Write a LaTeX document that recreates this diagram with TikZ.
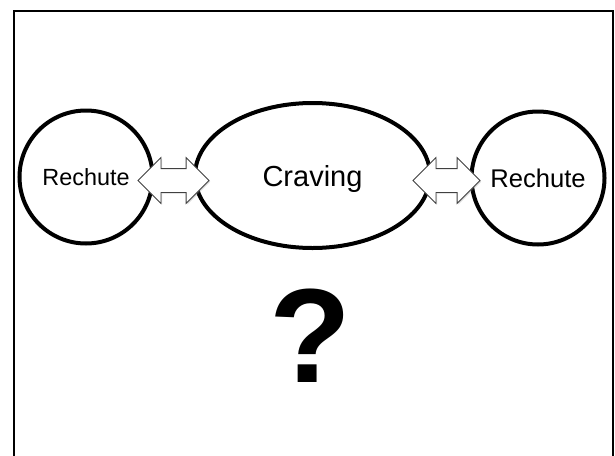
\documentclass[tikz,border=0pt]{standalone}
\usepackage{fontspec}
\setmainfont{Liberation Sans}
\usetikzlibrary{shapes.geometric,shapes.arrows,shadows}

\begin{document}
\begin{tikzpicture}[x=0.5pt,y=-0.5pt,
  kreis/.style={circle,draw=black,line width=2pt,minimum size=66.5pt,inner sep=0pt},
  doppelpfeil/.style={double arrow,draw=black!75,fill=white,line width=0.4pt,
    double arrow tip angle=90,double arrow head extend=5.5pt,
    inner xsep=0pt,inner ysep=5.75pt,
    drop shadow={shadow xshift=0.6pt,shadow yshift=-0.6pt,opacity=0.3}}]
%Rahmen, unten abgeschnitten
\useasboundingbox (0,0) rectangle (615,455);
\clip (0,0) rectangle (615,455);
\draw[line width=1pt] (14,11) rectangle (613,480);
%Kreise und Ellipse
\node[kreis,font=\fontsize{11.7}{14}\selectfont] (rechuteL) at (86,177) {Rechute};
\node[ellipse,draw=black,line width=2pt,minimum width=117.5pt,minimum height=72.5pt,
  inner sep=0pt,text depth=0pt,font=\fontsize{14.5}{17}\selectfont] (craving) at (312.5,175.5) {Craving};
\node[kreis,font=\fontsize{12.8}{15}\selectfont] (rechuteR) at (538,178) {Rechute};
%Doppelpfeile dazwischen
\node[doppelpfeil,minimum height=35.5pt] (pfeilL) at (173.5,180.5) {};
\node[doppelpfeil,minimum height=33.5pt] (pfeilR) at (446.5,180.5) {};
%Fragezeichen
\node[font=\bfseries\fontsize{67}{70}\selectfont,anchor=base,inner sep=0pt] (frage) at (310.5,382) {?};
\end{tikzpicture}
\end{document}
